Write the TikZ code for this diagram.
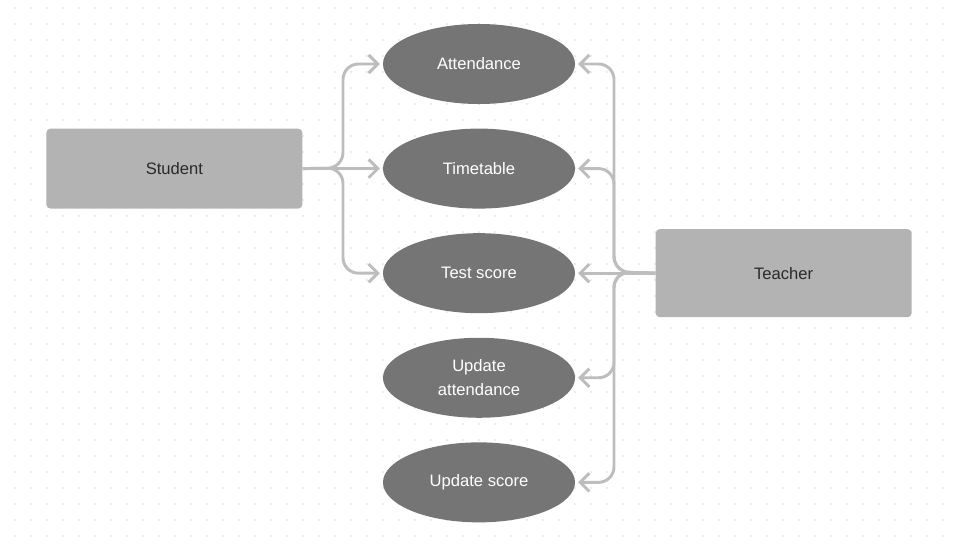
\documentclass[tikz,border=0pt]{standalone}
\usepackage{fontspec}
\setmainfont{Liberation Sans}
\usetikzlibrary{positioning, shapes.geometric, arrows.meta}
\definecolor{dotgray}{HTML}{D6D6D6}
\definecolor{linegray}{HTML}{BDBDBD}
\definecolor{ovalgray}{HTML}{757575}
\definecolor{boxgray}{HTML}{B3B3B3}
\definecolor{textdark}{HTML}{2A2A2A}

\begin{document}
\begin{tikzpicture}[x=0.025cm, y=-0.025cm, node distance={0.6cm},
  font=\fontsize{11.8}{17}\selectfont,
  uc/.style = {ellipse, fill=ovalgray, text=white, minimum width=4.8cm, minimum height=2cm, inner sep=0pt, align=center},
  actor/.style = {rectangle, rounded corners=3pt, fill=boxgray, text=textdark, minimum width=6.4cm},
  link/.style = {draw=linegray, line width=2.1pt, rounded corners=11pt, -{Straight Barb[length=6.5pt, width=13pt, line width=2.1pt]}, shorten >=2pt}]
\useasboundingbox (0,0) rectangle (954,546);
\foreach \i in {0,...,58}
  \foreach \j in {0,...,33}
    \fill[dotgray] (15+16*\i, 8+16*\j) circle (0.9);
\node[uc] (att) at (479,64) {Attendance};
\node[uc] (tt) [below=of att] {Timetable};
\node[uc] (ts) [below=of tt] {Test score};
\node[uc] (ua) [below=of ts] {Update\\attendance};
\node[uc] (us) [below=of ua] {Update score};
\node[actor, minimum height=2cm] (s) [left=2cm of tt] {Student};
\node[actor, minimum height=2.2cm] (t) [right=2cm of ts] {Teacher};
\draw[link] (s.east) -- (343,168) |- (att.west);
\draw[link] (s.east) -- (tt.west);
\draw[link] (s.east) -- (343,168) |- (ts.west);
\draw[link] (t.west) -- (614,272) |- (att.east);
\draw[link] (t.west) -- (614,272) |- (tt.east);
\draw[link] (t.west) -- (ts.east);
\draw[link] (t.west) -- (614,272) |- (ua.east);
\draw[link] (t.west) -- (614,272) |- (us.east);
\end{tikzpicture}
\end{document}
